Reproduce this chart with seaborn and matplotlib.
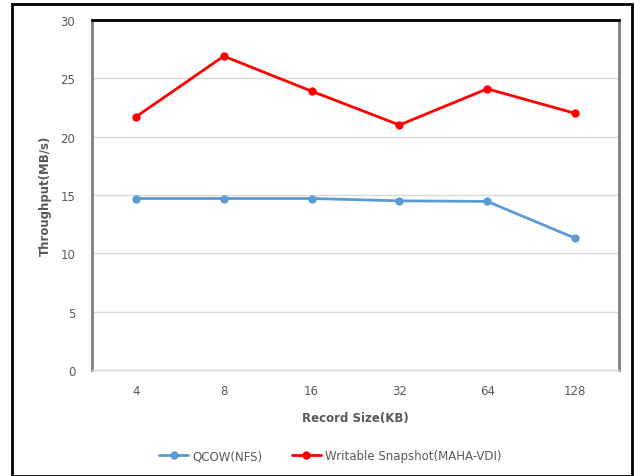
import pandas as pd
import matplotlib
matplotlib.use("Agg")
import matplotlib.pyplot as plt
import seaborn as sns
from matplotlib.patches import Rectangle

# Données
record_sizes = ["4", "8", "16", "32", "64", "128"]
qcow_nfs = [14.7, 14.7, 14.7, 14.5, 14.45, 11.3]
writable_snapshot = [21.7, 26.9, 23.9, 21.0, 24.1, 22.0]
series_names = ["QCOW(NFS)", "Writable Snapshot(MAHA-VDI)"]
series_colors = ["#5B9BD5", "#FF0000"]

df = pd.DataFrame({
    "Record Size(KB)": record_sizes * 2,
    "Throughput(MB/s)": qcow_nfs + writable_snapshot,
    "serie": [series_names[0]] * len(record_sizes) + [series_names[1]] * len(record_sizes),
})

sns.set_style("white")
plt.rcParams["font.family"] = ["DejaVu Sans"]
text_color = "#595959"

fig = plt.figure(figsize=(6.4, 4.77), dpi=100)
ax = fig.add_axes([92 / 640, 1 - 371 / 477, (619 - 92) / 640, (371 - 21) / 477])

sns.lineplot(data=df, x="Record Size(KB)", y="Throughput(MB/s)", hue="serie",
             palette=series_colors, marker="o", markersize=6, markeredgewidth=0,
             linewidth=2, ax=ax, sort=False)

ax.set_ylim(0, 30)
ax.set_xlim(-0.5, len(record_sizes) - 0.5)
ax.set_yticks(range(0, 31, 5))
ax.yaxis.grid(True, color="#D9D9D9", linewidth=1)
ax.set_axisbelow(True)
ax.tick_params(axis="both", length=0, colors=text_color, labelsize=8.5, pad=12)
ax.tick_params(axis="x", pad=10)

ax.spines["top"].set_color("black")
ax.spines["top"].set_linewidth(2)
ax.spines["left"].set_color("#7F7F7F")
ax.spines["left"].set_linewidth(2)
ax.spines["right"].set_color("#7F7F7F")
ax.spines["right"].set_linewidth(2)
ax.spines["bottom"].set_color("#D9D9D9")
ax.spines["bottom"].set_linewidth(1)

ax.set_xlabel("Record Size(KB)", fontsize=8.5, fontweight="bold", color=text_color, labelpad=10)
ax.set_ylabel("Throughput(MB/s)", fontsize=8.5, fontweight="bold", color=text_color, labelpad=6)

handles, labels = ax.get_legend_handles_labels()
ax.legend(handles, labels, loc="center", bbox_to_anchor=(330 / 640, 1 - 457 / 477),
          bbox_transform=fig.transFigure, ncol=2, frameon=False, fontsize=8.5,
          labelcolor=text_color, handlelength=2.5, columnspacing=2.5, handletextpad=0.3)

# Cadre extérieur
fig.patches.append(Rectangle((12 / 640, 0), (632 - 12) / 640, 1 - 5 / 477,
                             transform=fig.transFigure, fill=False,
                             edgecolor="black", linewidth=2))

fig.savefig("out.png", dpi=100)
